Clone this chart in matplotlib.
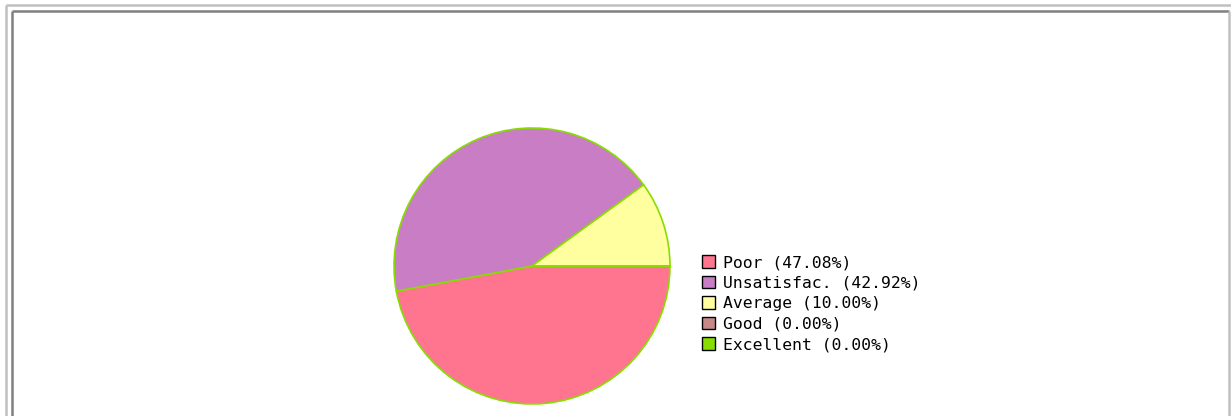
import matplotlib
matplotlib.use("Agg")
import matplotlib.pyplot as plt
from matplotlib.patches import Patch
from matplotlib.lines import Line2D

# ratings data
labels = ["Poor", "Unsatisfac.", "Average", "Good", "Excellent"]
values = [47.08, 42.92, 10.00, 0.00, 0.00]
colors = ["#ff7590", "#c87dc4", "#ffffa0", "#c88888", "#88dd00"]

W, H = 1231, 416
fig = plt.figure(figsize=(W / 100, H / 100), dpi=100)
fig.patch.set_facecolor("white")

def px(x0, y0, x1, y1, c, lw):
  # line in pixel coords (y from top)
  fig.add_artist(Line2D([x0 / W, x1 / W], [1 - y0 / H, 1 - y1 / H],
                        transform=fig.transFigure, color=c, lw=lw,
                        solid_capstyle="butt"))

# groove frame
px(6, 5, W, 5, "#c0c0c0", 1.8)
px(6, 5, 6, H, "#c0c0c0", 1.8)
px(12, 11, W - 2, 11, "#808080", 1.8)
px(12, 11, 12, H, "#808080", 1.8)
px(W - 2, 11, W - 2, H, "#c0c0c0", 1.8)

# pie
cx, cy, r = 532, 266, 138
ax = fig.add_axes([(cx - r) / W, (H - cy - r) / H, 2 * r / W, 2 * r / H])
ax.pie(values, colors=colors, startangle=0, counterclock=False, radius=1,
       wedgeprops=dict(edgecolor="#88dd00", linewidth=1.2))
ax.set_xlim(-1.0, 1.0)
ax.set_ylim(-1.0, 1.0)
ax.axis("off")

# legend
handles = [Patch(facecolor=c, edgecolor="black", linewidth=1.0) for c in colors]
texts = ["%s (%.2f%%)" % (l, v) for l, v in zip(labels, values)]
fig.legend(handles, texts, loc="upper left",
           bbox_to_anchor=(702 / W, 1 - 255 / H),
           frameon=False, borderpad=0, borderaxespad=0,
           handlelength=0.8, handleheight=0.8, handletextpad=0.5,
           labelspacing=0.34,
           prop=dict(family="DejaVu Sans Mono", size=11.8))

fig.savefig("out.png", dpi=100)
